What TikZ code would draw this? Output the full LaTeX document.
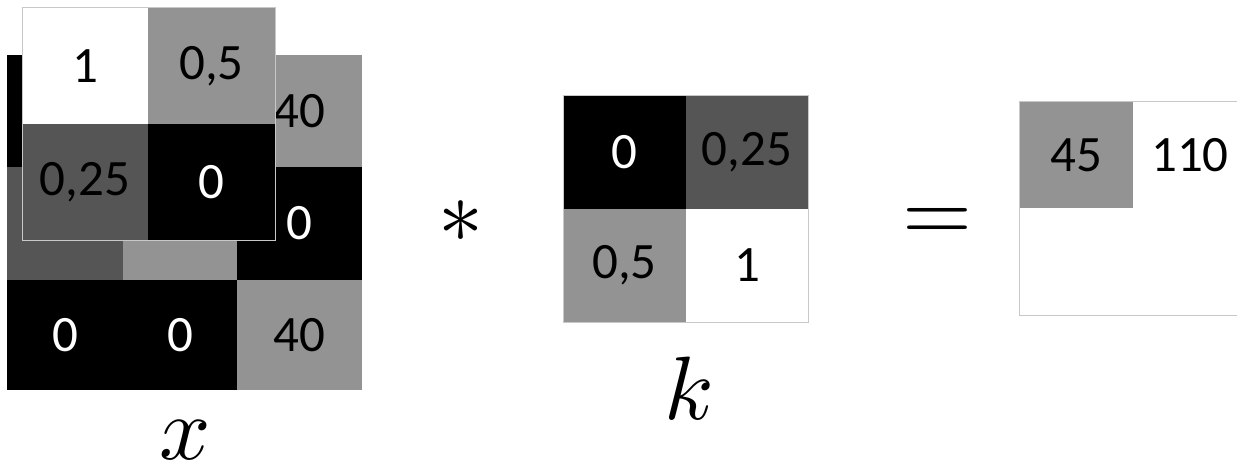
\documentclass[tikz,border=0pt]{standalone}
\usepackage{graphicx}
\usepackage{fontspec}
\setmainfont{Carlito}
\definecolor{cgray}{RGB}{147,147,147}
\definecolor{cdark}{RGB}{85,85,85}
\definecolor{cline}{RGB}{200,200,200}
\begin{document}
\begin{tikzpicture}[x=1pt,y=-1pt,
  cell/.style={inner sep=0pt, outer sep=0pt, text=black,
    font=\fontsize{51}{60}\selectfont},
  blk/.style={cell, fill=black, text=white},
  gry/.style={cell, fill=cgray},
  drk/.style={cell, fill=cdark},
  wht/.style={cell, fill=white},
  frame/.style={draw=cline, line width=1pt},
  mathlbl/.style={inner sep=0pt}]
\useasboundingbox (0,0) rectangle (1237,468);
% underlying 3x3 input
\node[blk, minimum width=116pt, minimum height=112pt] (x11) at (65,111) {};
\node[gry, minimum width=125pt, minimum height=112pt] (x13) at (299.5,111) {40};
\node[drk, minimum width=116pt, minimum height=113pt] (x21) at (65,223.5) {};
\node[gry, minimum width=114pt, minimum height=113pt] (x22) at (180,223.5) {};
\node[blk, minimum width=125pt, minimum height=113pt] (x23) at (299.5,223.5) {0};
\node[blk, minimum width=116pt, minimum height=110pt] (x31) at (65,335) {0};
\node[blk, minimum width=114pt, minimum height=110pt] (x32) at (180,335) {0};
\node[gry, minimum width=125pt, minimum height=110pt] (x33) at (299.5,335) {40};
% overlaid kernel window
\node[wht, minimum width=126pt, minimum height=116pt] (o11) at (85,66) {1};
\node[gry, minimum width=127pt, minimum height=116pt] (o12) at (211.5,66) {0,5};
\node[drk, minimum width=126pt, minimum height=116pt] (o21) at (85,182) {0,25};
\node[blk, minimum width=127pt, minimum height=116pt] (o22) at (211.5,182) {0};
\draw[frame] (o11.north west) rectangle (o22.south east);
% labels / operators
\node[mathlbl] (xl) at (185,440) {\scalebox{9}{$x$}};
\node[mathlbl] (ast) at (461,222) {\scalebox{9}{$\ast$}};
% kernel
\node[blk, minimum width=123pt, minimum height=113pt] (k11) at (624.5,152.5) {0};
\node[drk, minimum width=122pt, minimum height=113pt] (k12) at (747,152.5) {0,25};
\node[gry, minimum width=123pt, minimum height=113pt] (k21) at (624.5,265.5) {0,5};
\node[wht, minimum width=122pt, minimum height=113pt] (k22) at (747,265.5) {1};
\draw[frame] (k11.north west) rectangle (k22.south east);
\node[mathlbl] (kl) at (689,388) {\scalebox{9}{$k$}};
\node[mathlbl] (eq) at (937,225) {\scalebox{9}{$=$}};
% output
\node[gry, minimum width=114pt, minimum height=106pt] (y11) at (1076,155) {45};
\node[wht, minimum width=114pt, minimum height=106pt] (y12) at (1190,155) {110};
\coordinate (ytr) at (1240,102);
\coordinate (ybl) at (1019,315);
\coordinate (ybr) at (1240,315);
\draw[frame] (ytr) -- (y11.north west) -- (ybl) -- (ybr);
\end{tikzpicture}
\end{document}
